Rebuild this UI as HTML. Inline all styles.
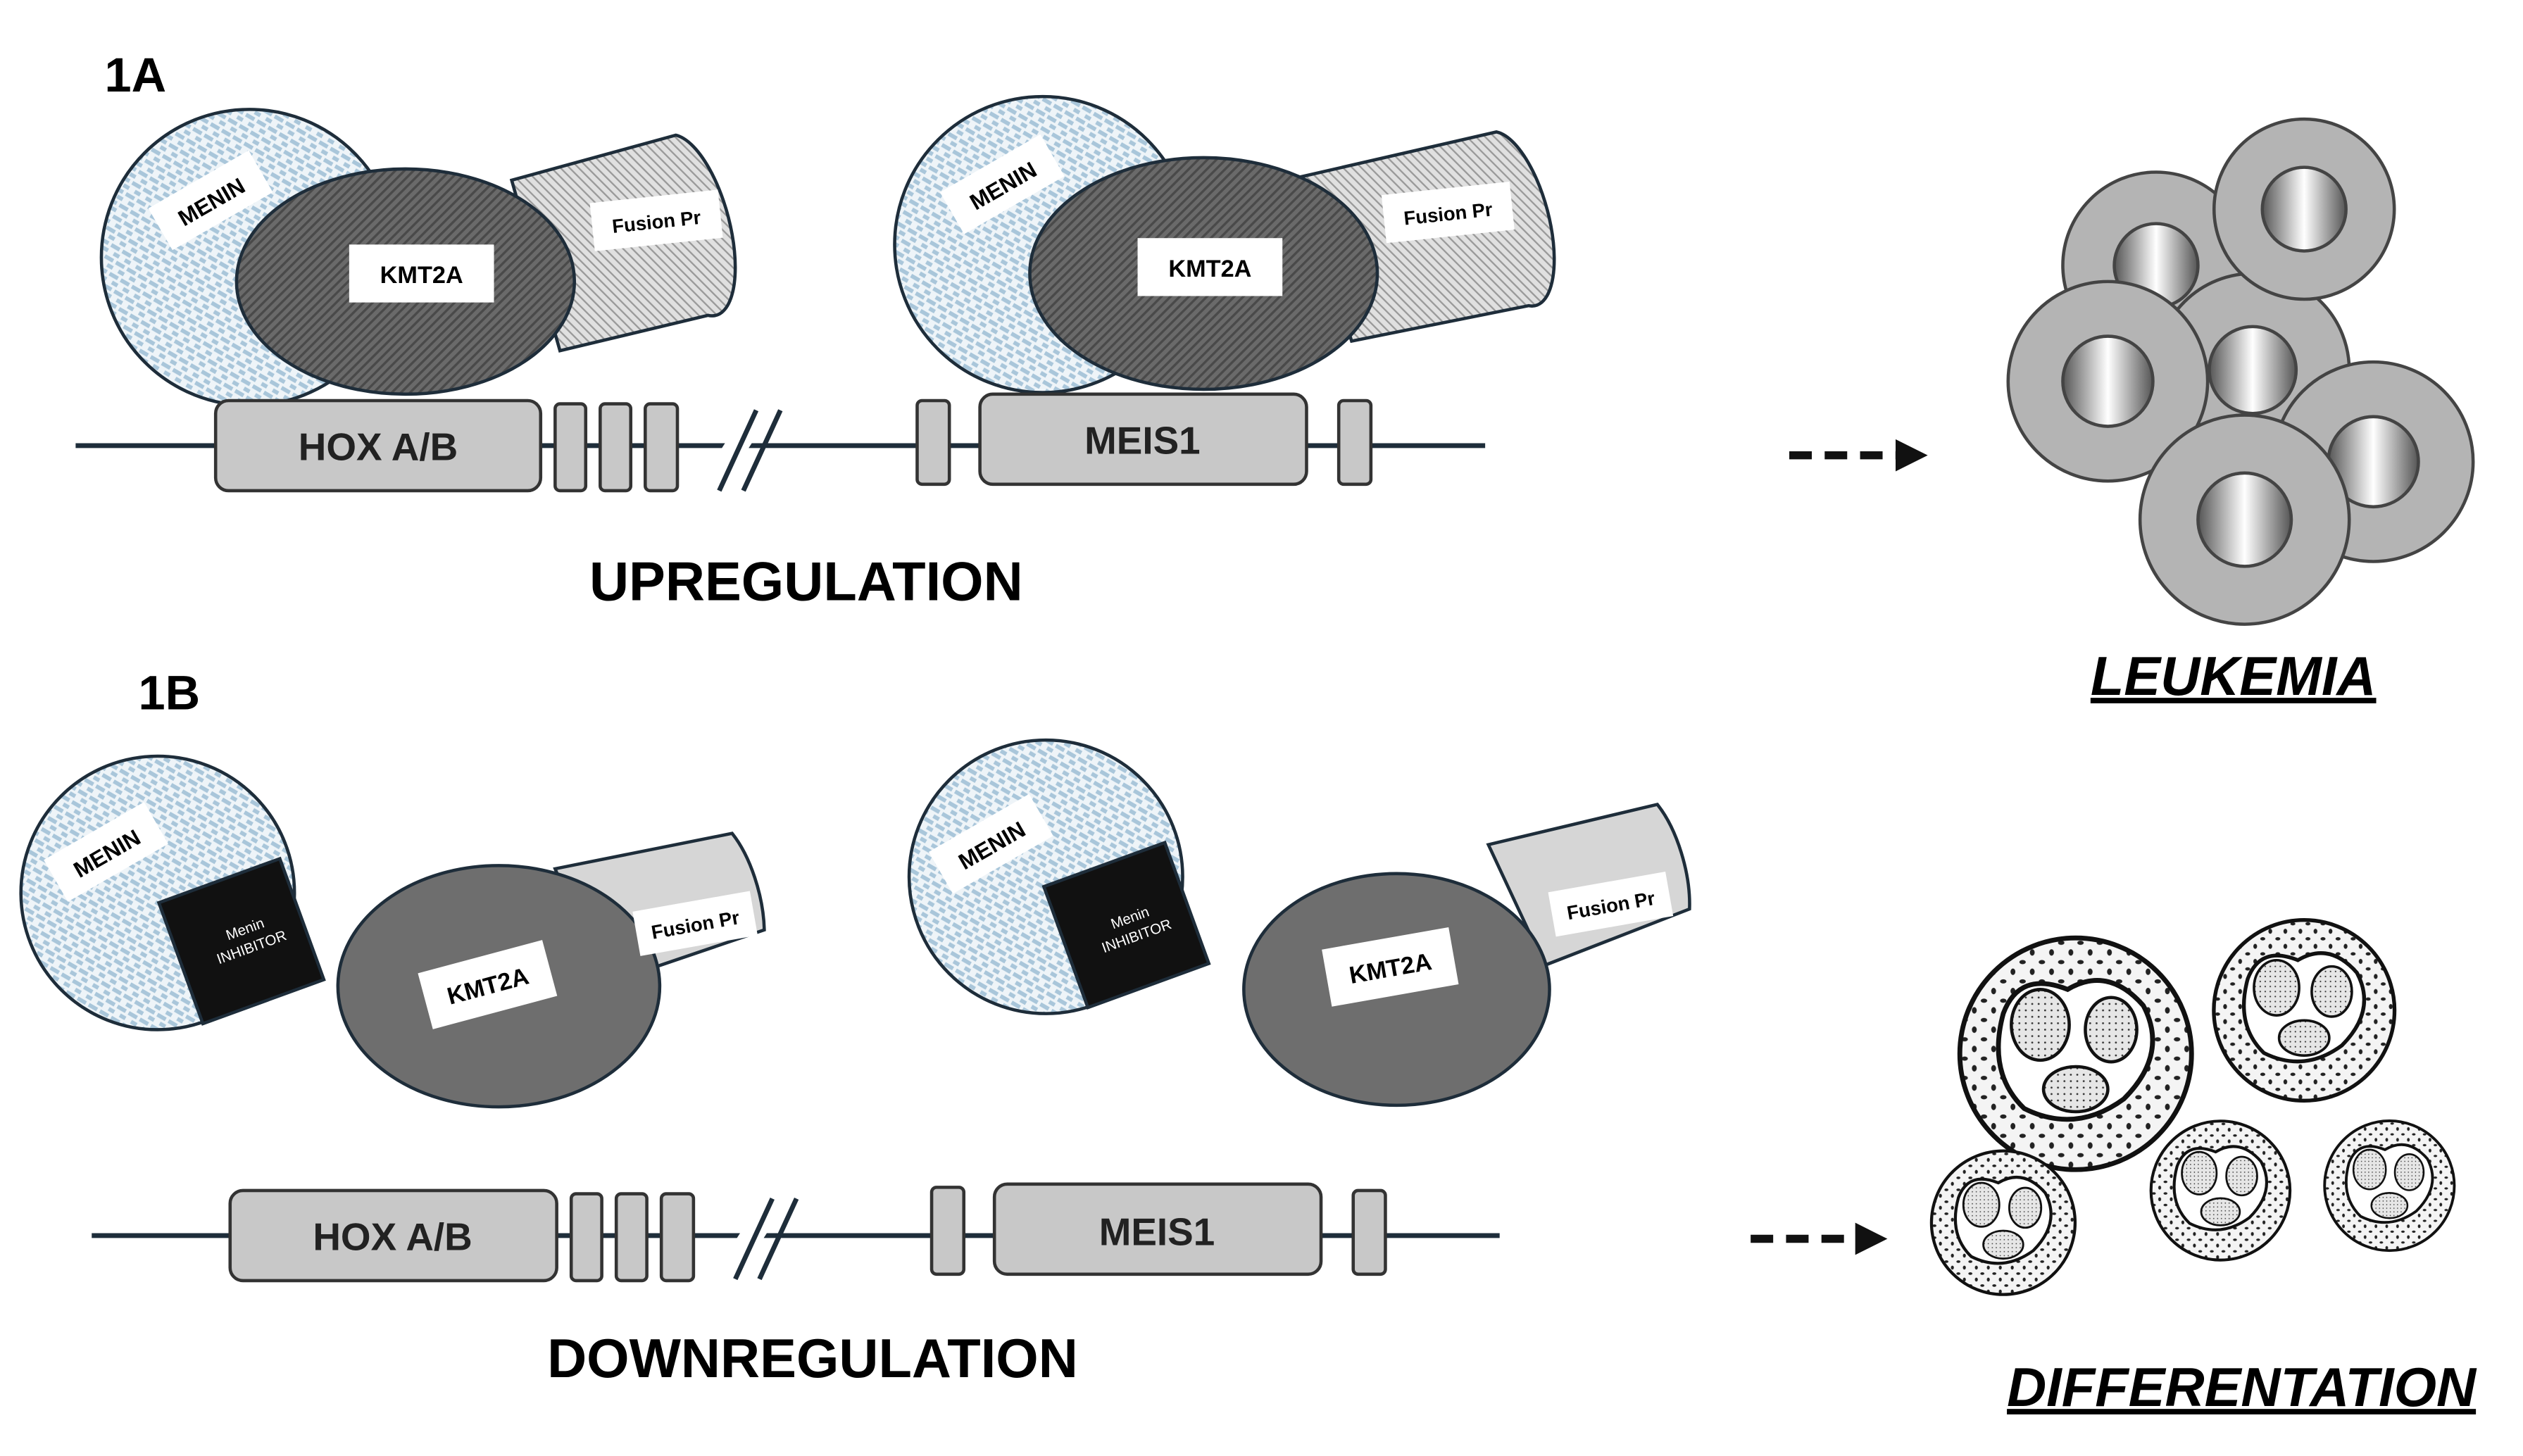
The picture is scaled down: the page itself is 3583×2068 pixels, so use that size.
<!DOCTYPE html>
<html><head><meta charset="utf-8"><style>html,body{margin:0;padding:0;background:#fff}svg{display:block}</style></head><body>
<svg width="3583" height="2068" viewBox="0 0 1568 905" xmlns="http://www.w3.org/2000/svg" font-family="Liberation Sans, sans-serif">
<defs>
<pattern id="men" width="8" height="8" patternUnits="userSpaceOnUse" patternTransform="rotate(30)">
<rect width="8" height="8" fill="#eef4f8"/><rect x="0" y="0" width="6" height="2.5" fill="#a9c6da"/><rect x="4" y="4" width="6" height="2.5" fill="#a9c6da"/></pattern>
<pattern id="kmt" width="4" height="4" patternUnits="userSpaceOnUse" patternTransform="rotate(45)">
<rect width="4" height="4" fill="#6a6a6a"/><rect width="1.5" height="4" fill="#4a4a4a"/></pattern>
<pattern id="fus" width="4" height="4" patternUnits="userSpaceOnUse" patternTransform="rotate(-45)">
<rect width="4" height="4" fill="#e0e0e0"/><rect width="1" height="4" fill="#999"/></pattern>
<linearGradient id="nucl" x1="0" x2="1"><stop offset="0" stop-color="#555"/><stop offset="0.5" stop-color="#fff"/><stop offset="1" stop-color="#555"/></linearGradient>
<marker id="ah" markerWidth="4" markerHeight="4" refX="2" refY="2" orient="auto"><path d="M0,0 L4,2 L0,4 Z" fill="#111"/></marker>
<pattern id="dots" width="12" height="12" patternUnits="userSpaceOnUse"><rect width="12" height="12" fill="#f4f4f4"/><ellipse cx="3" cy="3" rx="2" ry="1.3" fill="#222"/><ellipse cx="9" cy="9" rx="1.5" ry="2" fill="#222"/></pattern>
<pattern id="stip" width="4" height="4" patternUnits="userSpaceOnUse"><rect width="4" height="4" fill="#e6e6e6"/><circle cx="1" cy="1" r="0.6" fill="#333"/></pattern>
<g id="dcell"><circle r="72" fill="url(#dots)" stroke="#111" stroke-width="3"/>
<path d="M-45,-25 Q-35,-52 -5,-40 Q20,-55 42,-30 Q58,0 30,28 Q0,50 -32,34 Q-55,12 -45,-25Z" fill="#fff" stroke="#111" stroke-width="3"/>
<ellipse cx="-22" cy="-18" rx="18" ry="22" fill="url(#stip)" stroke="#111" stroke-width="2"/>
<ellipse cx="22" cy="-15" rx="16" ry="20" fill="url(#stip)" stroke="#111" stroke-width="2"/>
<ellipse cx="0" cy="22" rx="20" ry="14" fill="url(#stip)" stroke="#111" stroke-width="2"/></g>
</defs>
<g stroke="#1e2d3a" stroke-width="2">
<text x="65" y="57" font-size="30" font-weight="bold" stroke="none" fill="#000">1A</text>
<circle cx="155" cy="160" r="92" fill="url(#men)"/>
<path d="M318,112 L420,84 A22,55 -15 0 1 440,196 L348,218 Z" fill="url(#fus)"/>
<ellipse cx="252" cy="175" rx="105" ry="70" fill="url(#kmt)"/>
<circle cx="648" cy="152" r="92" fill="url(#men)"/>
<path d="M808,110 L930,82 A22,55 -15 0 1 950,190 L840,212 Z" fill="url(#fus)"/>
<ellipse cx="748" cy="170" rx="108" ry="72" fill="url(#kmt)"/>
<line x1="47" y1="277" x2="923" y2="277" stroke-width="3"/>
<g fill="#c8c8c8" stroke="#333">
<rect x="134" y="249" width="202" height="56" rx="8"/>
<rect x="345" y="251" width="19" height="54" rx="3"/><rect x="373" y="251" width="19" height="54" rx="3"/><rect x="401" y="251" width="20" height="54" rx="3"/>
<rect x="570" y="249" width="20" height="52" rx="3"/><rect x="609" y="245" width="203" height="56" rx="8"/><rect x="832" y="249" width="20" height="52" rx="3"/>
</g>
<line x1="440" y1="305" x2="472" y2="255" stroke="#fff" stroke-width="14"/>
<line x1="447" y1="305" x2="470" y2="255" stroke-width="3"/><line x1="462" y1="305" x2="485" y2="255" stroke-width="3"/>
<text x="86" y="441" font-size="30" font-weight="bold" stroke="none" fill="#000">1B</text>
<circle cx="98" cy="555" r="85" fill="url(#men)"/>
<rect x="110" y="545" width="80" height="80" fill="#111" transform="rotate(-20 150 585)"/>
<path d="M345,540 L455,518 A22,52 -15 0 1 475,578 L375,612 Z" fill="#d6d6d6"/>
<ellipse cx="310" cy="613" rx="100" ry="75" fill="#6e6e6e"/>
<circle cx="650" cy="545" r="85" fill="url(#men)"/>
<rect x="660" y="535" width="80" height="80" fill="#111" transform="rotate(-20 700 575)"/>
<path d="M925,525 L1030,500 A22,52 -15 0 1 1050,565 L960,600 Z" fill="#d6d6d6"/>
<ellipse cx="868" cy="615" rx="95" ry="72" fill="#6e6e6e"/>
<line x1="57" y1="768" x2="932" y2="768" stroke-width="3"/>
<g fill="#c8c8c8" stroke="#333">
<rect x="143" y="740" width="203" height="56" rx="8"/>
<rect x="355" y="742" width="19" height="54" rx="3"/><rect x="383" y="742" width="19" height="54" rx="3"/><rect x="411" y="742" width="20" height="54" rx="3"/>
<rect x="579" y="738" width="20" height="54" rx="3"/><rect x="618" y="736" width="203" height="56" rx="8"/><rect x="841" y="740" width="20" height="52" rx="3"/>
</g>
<line x1="450" y1="795" x2="482" y2="745" stroke="#fff" stroke-width="14"/>
<line x1="457" y1="795" x2="480" y2="745" stroke-width="3"/><line x1="472" y1="795" x2="495" y2="745" stroke-width="3"/>
</g>
<g font-weight="bold" fill="#000" text-anchor="middle">
<g transform="rotate(-30 130 125)"><rect x="95" y="110" width="72" height="30" fill="#fff"/><text x="131" y="131" font-size="14">MENIN</text></g>
<rect x="217" y="152" width="90" height="36" fill="#fff"/><text x="262" y="176" font-size="15">KMT2A</text>
<g transform="rotate(-6 408 138)"><rect x="368" y="122" width="80" height="30" fill="#fff"/><text x="408" y="142" font-size="12">Fusion Pr</text></g>
<g transform="rotate(-30 622 115)"><rect x="587" y="100" width="72" height="30" fill="#fff"/><text x="623" y="121" font-size="14">MENIN</text></g>
<rect x="707" y="148" width="90" height="36" fill="#fff"/><text x="752" y="172" font-size="15">KMT2A</text>
<g transform="rotate(-6 900 133)"><rect x="860" y="117" width="80" height="30" fill="#fff"/><text x="900" y="137" font-size="12">Fusion Pr</text></g>
<text x="235" y="286" font-size="24" fill="#222">HOX A/B</text>
<text x="710" y="282" font-size="24" fill="#222">MEIS1</text>
<text x="501" y="373" font-size="34">UPREGULATION</text>
<g transform="rotate(-30 65 530)"><rect x="30" y="515" width="72" height="30" fill="#fff"/><text x="66" y="536" font-size="14">MENIN</text></g>
<g transform="rotate(-20 155 585)" fill="#fff" font-size="9" font-weight="normal"><text x="155" y="580">Menin</text><text x="155" y="592">INHIBITOR</text></g>
<g transform="rotate(-15 303 612)"><rect x="263" y="594" width="80" height="36" fill="#fff"/><text x="303" y="618" font-size="15">KMT2A</text></g>
<g transform="rotate(-10 432 574)"><rect x="395" y="560" width="74" height="28" fill="#fff"/><text x="432" y="579" font-size="12">Fusion Pr</text></g>
<g transform="rotate(-30 615 525)"><rect x="580" y="510" width="72" height="30" fill="#fff"/><text x="616" y="531" font-size="14">MENIN</text></g>
<g transform="rotate(-20 705 578)" fill="#fff" font-size="9" font-weight="normal"><text x="705" y="573">Menin</text><text x="705" y="585">INHIBITOR</text></g>
<g transform="rotate(-10 864 601)"><rect x="824" y="583" width="80" height="36" fill="#fff"/><text x="864" y="607" font-size="15">KMT2A</text></g>
<g transform="rotate(-10 1001 562)"><rect x="964" y="548" width="74" height="28" fill="#fff"/><text x="1001" y="567" font-size="12">Fusion Pr</text></g>
<text x="244" y="777" font-size="24" fill="#222">HOX A/B</text>
<text x="719" y="774" font-size="24" fill="#222">MEIS1</text>
<text x="505" y="856" font-size="34">DOWNREGULATION</text>
<text x="1388" y="432" font-size="34" font-style="italic" text-decoration="underline">LEUKEMIA</text>
<text x="1393" y="874" font-size="34" font-style="italic" text-decoration="underline">DIFFERENTATION</text>
</g>
<line x1="1112" y1="283" x2="1188" y2="283" stroke="#111" stroke-width="5" stroke-dasharray="14,8" marker-end="url(#ah)"/>
<line x1="1088" y1="770" x2="1163" y2="770" stroke="#111" stroke-width="5" stroke-dasharray="14,8" marker-end="url(#ah)"/>
<g stroke="#444" stroke-width="2">
<circle cx="1340" cy="165" r="58" fill="#b4b4b4"/><circle cx="1340" cy="165" r="26" fill="url(#nucl)"/>
<circle cx="1400" cy="230" r="60" fill="#b4b4b4"/><circle cx="1400" cy="230" r="27" fill="url(#nucl)"/>
<circle cx="1432" cy="130" r="56" fill="#b4b4b4"/><circle cx="1432" cy="130" r="26" fill="url(#nucl)"/>
<circle cx="1310" cy="237" r="62" fill="#b4b4b4"/><circle cx="1310" cy="237" r="28" fill="url(#nucl)"/>
<circle cx="1475" cy="287" r="62" fill="#b4b4b4"/><circle cx="1475" cy="287" r="28" fill="url(#nucl)"/>
<circle cx="1395" cy="323" r="65" fill="#b4b4b4"/><circle cx="1395" cy="323" r="29" fill="url(#nucl)"/>
</g>
<use href="#dcell" transform="translate(1290 655)"/>
<use href="#dcell" transform="translate(1432 628) scale(0.78)"/>
<use href="#dcell" transform="translate(1245 760) scale(0.62)"/>
<use href="#dcell" transform="translate(1380 740) scale(0.6)"/>
<use href="#dcell" transform="translate(1485 737) scale(0.56)"/>
</svg>
</body></html>
